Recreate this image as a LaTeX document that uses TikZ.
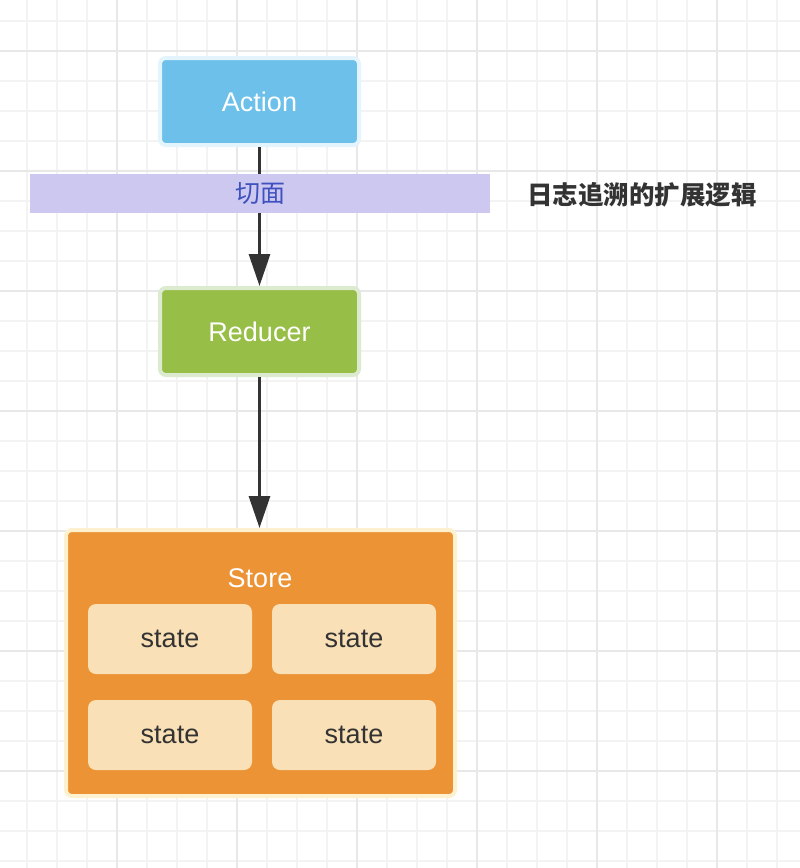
\documentclass[tikz,border=0pt]{standalone}
\usepackage{fontspec}
\setmainfont{Liberation Sans}
\newfontfamily\cjk{Noto Sans CJK SC}
\usetikzlibrary{arrows.meta}
\definecolor{gridminor}{HTML}{F3F3F3}
\definecolor{gridmajor}{HTML}{E8E8E8}
\definecolor{actfill}{HTML}{6CC0EA}
\definecolor{actborder}{HTML}{E3F4FC}
\definecolor{redfill}{HTML}{97BE47}
\definecolor{redborder}{HTML}{DCEBD0}
\definecolor{storefill}{HTML}{EC9336}
\definecolor{storeborder}{HTML}{FDF1CF}
\definecolor{statefill}{HTML}{F9E0B6}
\definecolor{bandfill}{HTML}{CDC8EF}
\definecolor{bandtext}{HTML}{3F51BF}
\definecolor{darktext}{HTML}{333333}
\tikzset{
  lbl/.style={font=\fontsize{27}{31}\selectfont},
  flowbox/.style={rounded corners=6pt, line width=4pt, minimum width=199pt, minimum height=87pt, inner sep=0pt, text=white, lbl},
  statebox/.style={rounded corners=8pt, fill=statefill, minimum width=164pt, minimum height=70pt, inner sep=0pt, text=darktext, lbl},
  flowarrow/.style={line width=3pt, draw=darktext, -{Triangle[width=21pt,length=32pt]}},
}
\begin{document}
\begin{tikzpicture}[x=1pt,y=-1pt]
\useasboundingbox (0,0) rectangle (800,868);
\fill[white] (0,0) rectangle (800,868);
% grid
\foreach \i in {0,...,25} {\draw[gridminor, line width=1.5pt] ({27+30*\i},0) -- ({27+30*\i},868);}
\foreach \i in {0,...,28} {\draw[gridminor, line width=1.5pt] (0,{21+30*\i}) -- (800,{21+30*\i});}
\foreach \i in {0,...,5} {\draw[gridmajor, line width=2pt] ({117+120*\i},0) -- ({117+120*\i},868);}
\foreach \i in {0,...,6} {\draw[gridmajor, line width=2pt] (0,{51+120*\i}) -- (800,{51+120*\i});}
% nodes
\node[flowbox, fill=actfill, draw=actborder] (action) at (259.5,101.5) {Action};
\node[flowbox, fill=redfill, draw=redborder] (reducer) at (259.5,331.5) {Reducer};
\node[rounded corners=6pt, line width=4pt, fill=storefill, draw=storeborder, minimum width=389pt, minimum height=266pt, inner sep=0pt] (store) at (260.5,663) {};
\node[lbl, text=white, inner sep=0pt] (storelabel) at (260,578.5) {Store};
\node[statebox] (s1) at (170,639) {state};
\node[statebox] (s2) at (354,639) {state};
\node[statebox] (s3) at (170,735) {state};
\node[statebox] (s4) at (354,735) {state};
% arrows
\draw[flowarrow] (action.south) -- (reducer.north);
\draw[flowarrow] (reducer.south) -- (reducer.south |- store.north);
% band
\node[fill=bandfill, minimum width=460pt, minimum height=39pt, inner sep=0pt, text=bandtext, font=\cjk\fontsize{25}{28}\selectfont] (band) at (260,193.5) {切面};
\node[anchor=west, inner sep=0pt, text=darktext, font=\cjk\bfseries\fontsize{25.5}{29}\selectfont] (note) at (527,195) {日志追溯的扩展逻辑};
\end{tikzpicture}
\end{document}
